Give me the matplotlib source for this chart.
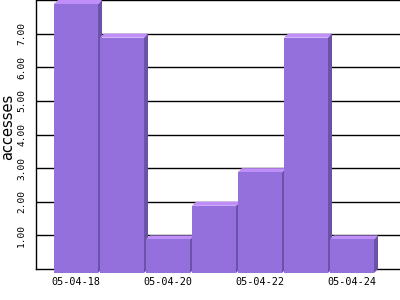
import matplotlib
matplotlib.use("Agg")
import matplotlib.pyplot as plt
from matplotlib.patches import Polygon
from matplotlib.transforms import ScaledTranslation

# data
dates = ["05-04-18", "05-04-19", "05-04-20", "05-04-21", "05-04-22", "05-04-23", "05-04-24"]
accesses = [8, 7, 1, 2, 3, 7, 1]
shown_dates = ["05-04-18", "05-04-20", "05-04-22", "05-04-24"]
ytick_vals = [1, 2, 3, 4, 5, 6, 7]

front_col = "#9370DB"
top_col = "#C08EF8"
side_col = "#6A52A8"

fig = plt.figure(figsize=(4, 3), dpi=100)
ax = fig.add_axes([0.09, 0.1033, 0.91, 0.8967])

xlo, xhi = -0.957, 6.957
ylo, yhi = 0, 8
ax.set_xlim(xlo, xhi)
ax.set_ylim(ylo, yhi)

# 3d depth of 4 px, turned into data units
depth_px = 4
ax_w = 0.91 * 400
ax_h = 0.8967 * 300
dx = depth_px * (xhi - xlo) / ax_w
dy = depth_px * (yhi - ylo) / ax_h
w = 0.957

for i, v in enumerate(accesses):
    xl, xr = i - w / 2, i + w / 2
    side = Polygon([(xr - dx, -dy), (xr, 0), (xr, v), (xr - dx, v - dy)],
                   closed=True, facecolor=side_col, edgecolor="none",
                   zorder=5 + i * 0.1, clip_on=False)
    top = Polygon([(xl - dx, v - dy), (xr - dx, v - dy), (xr, v), (xl, v)],
                  closed=True, facecolor=top_col, edgecolor="none",
                  zorder=5 + i * 0.1, clip_on=False)
    ax.add_patch(side)
    ax.add_patch(top)
    b = ax.bar(i - dx, v, width=w, bottom=-dy, color=front_col,
               edgecolor="none", zorder=5.05 + i * 0.1)
    for p in b:
        p.set_clip_on(False)

# grid lines incl. the top line
for g in ytick_vals + [8]:
    ax.axhline(g, color="black", lw=1.0, zorder=2)

ax.spines["top"].set_visible(False)
ax.spines["right"].set_visible(False)
ax.spines["left"].set_linewidth(1.0)
ax.spines["bottom"].set_linewidth(1.0)

ax.set_yticks(ytick_vals)
ax.set_yticklabels(["%.2f" % t for t in ytick_vals], rotation=90,
                   va="center", family="DejaVu Sans Mono", fontsize=6.8)
ax.tick_params(axis="y", length=0, pad=7)

ax.set_xticks([dates.index(d) for d in shown_dates])
ax.set_xticklabels(shown_dates, family="DejaVu Sans Mono", fontsize=7.3)
ax.tick_params(axis="x", length=0, pad=6)
for lab in ax.get_xticklabels():
    lab.set_transform(lab.get_transform() + ScaledTranslation(-depth_px / 100, 0, fig.dpi_scale_trans))

ax.set_ylabel("accesses", fontsize=10.5, family="DejaVu Sans")
ax.yaxis.set_label_coords(-0.058, 0.528)

fig.savefig("out.png", dpi=100)
